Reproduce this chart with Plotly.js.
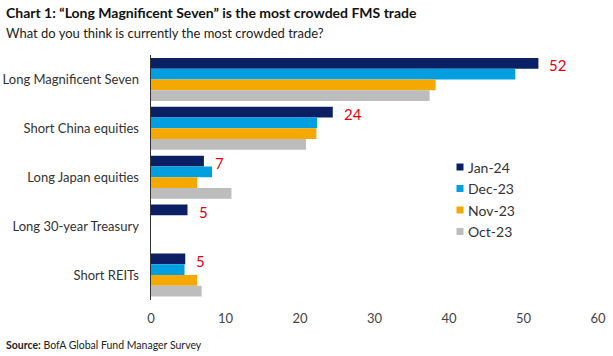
<!DOCTYPE html>
<html>
<head>
<meta charset="utf-8">
<script src="https://cdn.plot.ly/plotly-3.0.1.min.js"></script>
<style>
html,body{margin:0;padding:0;background:#fff;}
#chart{width:613px;height:356px;}
</style>
</head>
<body>
<div id="chart"></div>
<script>
const categories = ["Long Magnificent Seven", "Short China equities", "Long Japan equities", "Long 30-year Treasury", "Short REITs"];
const seriesNames = ["Jan-24", "Dec-23", "Nov-23", "Oct-23"];
const jan24 = [52.0, 24.4, 7.1, 4.9, 4.6];
const dec23 = [48.9, 22.3, 8.2, null, 4.5];
const nov23 = [38.2, 22.2, 6.2, null, 6.2];
const oct23 = [37.4, 20.8, 10.8, null, 6.8];
const colors = ["#0b1f65", "#009fdf", "#f5a800", "#bdbdbd"];
const xTicks = [0, 10, 20, 30, 40, 50, 60];

const FONT = "Lato, 'Open Sans', sans-serif";
const allSeries = [jan24, dec23, nov23, oct23];

// plot area in pixels
const PL = 151, PW = 447, PT = 55, PH = 245;
const px = (x) => (x - PL) / PW;
const py = (y) => 1 - (y - PT) / PH;

const traces = allSeries.map((vals, i) => ({
  type: "bar",
  orientation: "h",
  name: seriesNames[i],
  x: vals,
  y: categories,
  marker: {color: colors[i], line: {width: 0}},
  hoverinfo: "skip"
}));

const annotations = jan24.map((v, i) => ({
  x: v, y: categories[i], xref: "x", yref: "y",
  text: String(Math.round(v)),
  showarrow: false, xanchor: "left", yanchor: "middle",
  xshift: 9, yshift: 14,
  font: {family: FONT, size: 15, color: "#e3000f"}
}));

annotations.push({
  xref: "paper", yref: "paper", x: px(4), y: py(13),
  xanchor: "left", yanchor: "middle", showarrow: false,
  text: "<b>Chart 1: “Long Magnificent Seven” is the most crowded FMS trade</b>",
  font: {family: FONT, size: 14, color: "#111"}
});
annotations.push({
  xref: "paper", yref: "paper", x: px(4), y: py(33),
  xanchor: "left", yanchor: "middle", showarrow: false,
  text: "What do you think is currently the most crowded trade?",
  font: {family: FONT, size: 13, color: "#222"}
});
annotations.push({
  xref: "paper", yref: "paper", x: px(4), y: py(345),
  xanchor: "left", yanchor: "middle", showarrow: false,
  text: "<b>Source:</b> BofA Global Fund Manager Survey",
  font: {family: FONT, size: 10.5, color: "#222"}
});

// manual legend
const shapes = [];
const legendY = [167, 188.5, 210, 231.5];
seriesNames.forEach((name, i) => {
  shapes.push({
    type: "rect", xref: "paper", yref: "paper",
    x0: px(456.5), x1: px(463.5), y0: py(legendY[i] + 3.5), y1: py(legendY[i] - 3.5),
    fillcolor: colors[i], line: {width: 0}
  });
  annotations.push({
    xref: "paper", yref: "paper", x: px(466), y: py(legendY[i]),
    xanchor: "left", yanchor: "middle", showarrow: false,
    text: name, font: {family: FONT, size: 14, color: "#333"}
  });
});

const layout = {
  width: 613, height: 356,
  margin: {l: PL, r: 613 - PL - PW, t: PT, b: 356 - PT - PH},
  paper_bgcolor: "#fff", plot_bgcolor: "#fff",
  barmode: "group", bargap: 0.12, bargroupgap: 0,
  showlegend: false,
  xaxis: {
    range: [0, 60], tickvals: xTicks, ticktext: xTicks.map(String),
    showgrid: false, zeroline: false, showline: false, ticks: "",
    tickfont: {family: FONT, size: 13, color: "#444"}, ticklabelstandoff: 9,
    fixedrange: true
  },
  yaxis: {
    autorange: "reversed", type: "category",
    showgrid: false, zeroline: false, showline: true, linecolor: "#333", linewidth: 1.5,
    ticks: "", tickfont: {family: FONT, size: 13, color: "#333"}, ticklabelstandoff: 8,
    fixedrange: true
  },
  shapes: shapes,
  annotations: annotations,
  font: {family: FONT}
};

Plotly.newPlot("chart", traces, layout, {displayModeBar: false, staticPlot: true});
</script>
</body>
</html>
